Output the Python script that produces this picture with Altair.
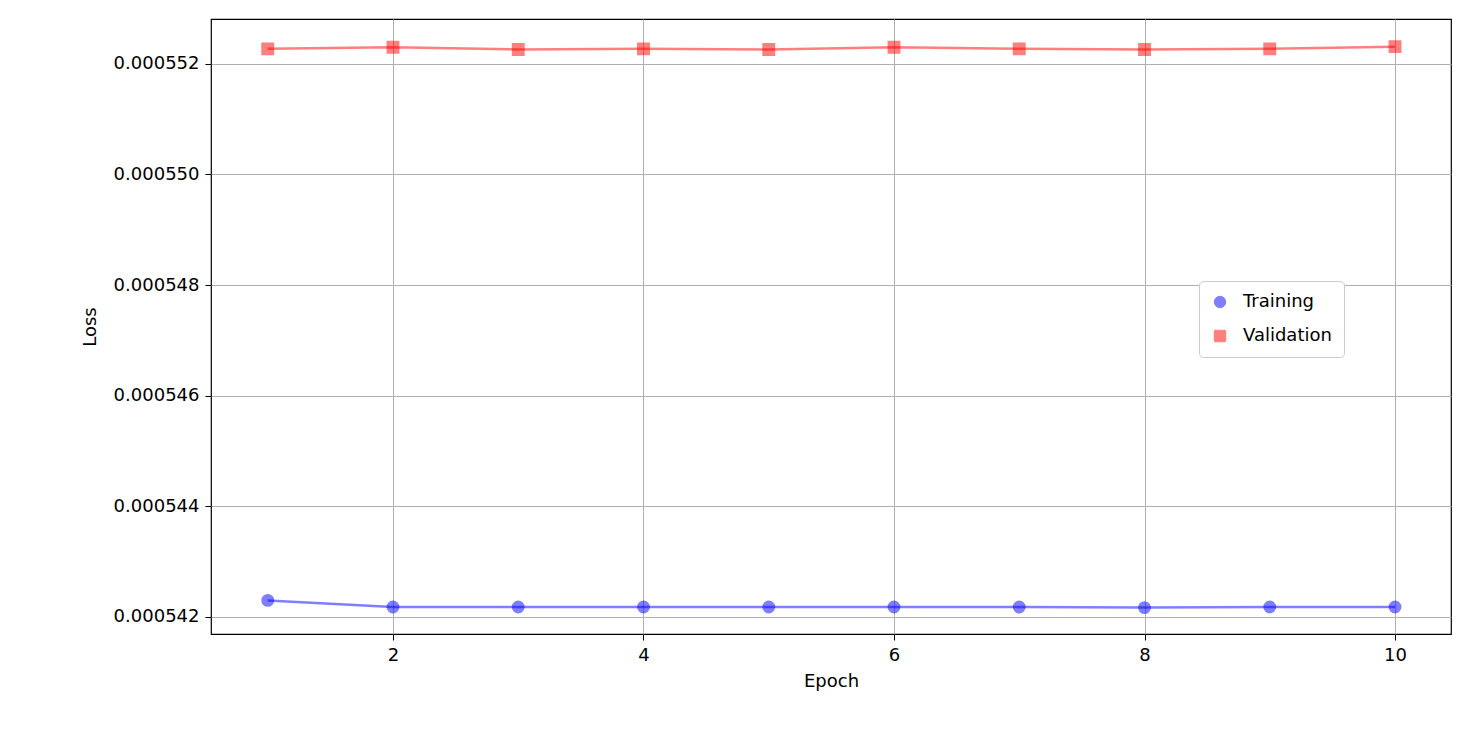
import altair as alt
import pandas as pd

epochs = [1, 2, 3, 4, 5, 6, 7, 8, 9, 10]
train_loss = [0.0005423, 0.00054218, 0.00054218, 0.00054218, 0.00054218,
              0.00054218, 0.00054218, 0.00054217, 0.00054218, 0.00054218]
val_loss = [0.00055227, 0.00055230, 0.00055226, 0.00055227, 0.00055226,
            0.00055230, 0.00055227, 0.00055226, 0.00055227, 0.00055231]

df = pd.concat([
    pd.DataFrame({"Epoch": epochs, "Loss": train_loss, "Series": "Training"}),
    pd.DataFrame({"Epoch": epochs, "Loss": val_loss, "Series": "Validation"}),
])

font = "DejaVu Sans"
x = alt.X("Epoch:Q", title="Epoch", scale=alt.Scale(domain=[0.547, 10.447], nice=False, zero=False),
          axis=alt.Axis(values=[2, 4, 6, 8, 10], format="d"))
y = alt.Y("Loss:Q", title="Loss", scale=alt.Scale(domain=[0.0005416926, 0.00055281], nice=False, zero=False),
          axis=alt.Axis(values=[0.000542, 0.000544, 0.000546, 0.000548, 0.00055, 0.000552], format=".6f"))
color = alt.Color("Series:N", scale=alt.Scale(domain=["Training", "Validation"], range=["blue", "red"]),
                  legend=alt.Legend(title=None, orient="none", legendX=988, legendY=262,
                                    fillColor="white", strokeColor="#cccccc", padding=12,
                                    labelFontSize=18, labelFont=font, symbolSize=130,
                                    symbolOpacity=0.5, rowPadding=16, symbolStrokeWidth=1,
                                    labelOffset=14, cornerRadius=4))
shape = alt.Shape("Series:N", scale=alt.Scale(domain=["Training", "Validation"], range=["circle", "square"]),
                  legend=None)

base = alt.Chart(df)
lines = base.mark_line(strokeWidth=2.5, opacity=0.5).encode(x=x, y=y, color=color, detail="Series:N")
points = base.mark_point(filled=True, size=130, opacity=0.5, strokeWidth=1.5).encode(
    x=x, y=y, color=color, stroke=alt.Stroke("Series:N", legend=None,
        scale=alt.Scale(domain=["Training", "Validation"], range=["blue", "red"])), shape=shape)

chart = (lines + points).properties(
    width=1240, height=615,
    autosize=alt.AutoSizeParams(type="none"),
    padding={"left": 203, "top": 11, "right": 10, "bottom": 100},
).configure_view(stroke="black", strokeWidth=1.2).configure_axis(
    grid=True, gridColor="#b0b0b0", gridWidth=1, domain=False,
    tickColor="black", tickSize=6, labelFontSize=18, titleFontSize=18,
    labelFont=font, titleFont=font, labelColor="black", titleColor="black",
    titleFontWeight="normal", labelPadding=6,
).configure_axisY(titlePadding=14).configure_axisX(titlePadding=8)

chart.save("out.html", embed_options={"renderer": "svg", "actions": False})
